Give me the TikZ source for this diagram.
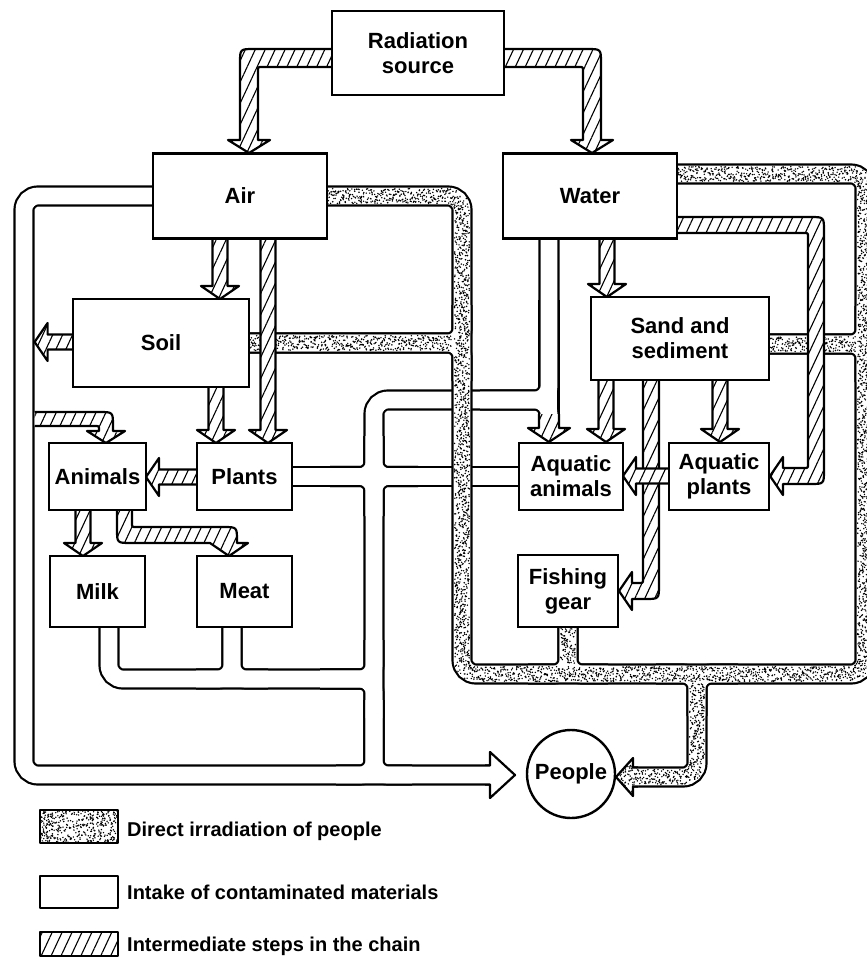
\documentclass[tikz,border=0pt]{standalone}
\usepackage{fontspec}
\setmainfont{Liberation Sans}
\usetikzlibrary{patterns.meta,decorations.markings}
\pgfdeclarelayer{wlay}
\pgfdeclarelayer{slay}
\pgfdeclarelayer{hlay}
\pgfsetlayers{wlay,slay,hlay,main}
\tikzset{
  bandline/.style={line width=2.2pt, line join=round},
  wblack/.style={draw=black, line width=21.2pt, rounded corners=14pt},
  wwhite/.style={draw=white, line width=16.8pt, rounded corners=14pt},
  sdots/.style={rounded corners=14pt, decoration={markings, mark=between positions 0 and 1 step 2pt with {\fill[black] ({(rnd-0.5)*2pt},{(rnd-0.5)*15pt}) circle (0.8pt) ({(rnd-0.5)*2pt},{(rnd-0.5)*15pt}) circle (0.8pt) ({(rnd-0.5)*2pt},{(rnd-0.5)*15pt}) circle (0.8pt) ({(rnd-0.5)*2pt},{(rnd-0.5)*15pt}) circle (0.8pt) ({(rnd-0.5)*2pt},{(rnd-0.5)*15pt}) circle (0.8pt);}}, decorate},
  hatchfill/.style={preaction={fill=white}, pattern={Lines[angle=65,distance=9pt,line width=1.1pt]}},
  nbox/.style={draw, line width=2.4pt, fill=white, inner sep=0pt, align=center, font=\fontsize{22}{25}\selectfont\bfseries},
  legtext/.style={anchor=base west, inner sep=0pt, font=\fontsize{20}{24}\selectfont\bfseries},
}
\newcommand{\WPaths}[1]{%
  \draw[#1] (air.west) -- (24,196) -- (24,775) -- (490,775);
  \draw[#1] (109,620) -- (109,679) -- (374,679);
  \draw[#1] (232,620) -- (232,679) -- (196,679);
  \draw[#1] (232,620) -- (232,679) -- (268,679);
  \draw[#1] (320,679) -- (374,679) -- (374,640);
  \draw[#1] (320,679) -- (374,679) -- (374,718);
  \draw[#1] (374,700) -- (374,775) -- (336,775);
  \draw[#1] (374,700) -- (374,775) -- (412,775);
  \draw[#1] (plants.east) -- (aqanim.west);
  \draw[#1] (330,476.5) -- (374,476.5) -- (374,436);
  \draw[#1] (330,476.5) -- (374,476.5) -- (374,516);
  \draw[#1] (418,476.5) -- (374,476.5) -- (374,436);
  \draw[#1] (418,476.5) -- (374,476.5) -- (374,516);
  \draw[#1] (374,775) -- (374,400) -- (549,400) -- (549,230);
  \draw[#1] (480,400) -- (549,400) -- (549,432);
  \draw[#1] (549,300) -- (549,432);
}
\newcommand{\SPaths}[1]{%
  \draw[#1] (air.east) -- (462,196) -- (462,674) -- (865,674) -- (865,174) -- (670,174);
  \draw[#1] (soil.east) -- (462,343) -- (462,305);
  \draw[#1] (soil.east) -- (462,343) -- (462,381);
  \draw[#1] (760,344) -- (865,344) -- (865,306);
  \draw[#1] (760,344) -- (865,344) -- (865,382);
  \draw[#1] (fish.south) -- (568,674) -- (528,674);
  \draw[#1] (fish.south) -- (568,674) -- (608,674);
  \draw[#1] (656,674) -- (697,674) -- (697,777) -- (633,777);
  \draw[#1] (738,674) -- (697,674) -- (697,716);
}
\newcommand{\hpoly}[1]{\path[hatchfill] #1 -- cycle; \draw[bandline] #1;}
\newcommand{\hdn}[3]{\hpoly{(#1-7.5,#2) -- (#1-7.5,#3-13) -- (#1-19,#3-13) -- (#1,#3) -- (#1+19,#3-13) -- (#1+7.5,#3-13) -- (#1+7.5,#2)}}
\newcommand{\hlf}[3]{\hpoly{(#2,#1-7.5) -- (#3+13,#1-7.5) -- (#3+13,#1-19) -- (#3,#1) -- (#3+13,#1+19) -- (#3+13,#1+7.5) -- (#2,#1+7.5)}}
\begin{document}
\begin{tikzpicture}[x=1pt,y=-1pt]
\pgfmathsetseed{4242}
\useasboundingbox (0,0) rectangle (867,959);
% boxes
\node[nbox, minimum width=172pt, minimum height=84pt] (src) at (418,53) {Radiation\\source};
\node[nbox, minimum width=174pt, minimum height=85pt] (air) at (240,196) {Air};
\node[nbox, minimum width=174pt, minimum height=85pt] (water) at (590,196) {Water};
\node[nbox, minimum width=176pt, minimum height=88pt] (soil) at (161,343) {Soil};
\node[nbox, minimum width=178pt, minimum height=83pt] (sand) at (680,338.5) {Sand and\\sediment};
\node[nbox, minimum width=97pt, minimum height=67pt] (animals) at (97.5,476.5) {Animals};
\node[nbox, minimum width=95pt, minimum height=67pt] (plants) at (244.5,476.5) {Plants};
\node[nbox, minimum width=104pt, minimum height=67pt] (aqanim) at (571,476.5) {Aquatic\\animals};
\node[nbox, minimum width=100pt, minimum height=67pt] (aqplant) at (719,476.5) {Aquatic\\plants};
\node[nbox, minimum width=95pt, minimum height=71pt] (milk) at (97.5,591.5) {Milk};
\node[nbox, minimum width=95pt, minimum height=71pt] (meat) at (244.5,591.5) {Meat};
\node[nbox, minimum width=100pt, minimum height=72pt] (fish) at (568,591) {Fishing\\gear};
\node[nbox, circle, minimum size=88pt] (people) at (571,774) {People};

% white (intake) network
\begin{pgfonlayer}{wlay}
\WPaths{wblack}
\WPaths{wwhite}
\fill[white] (485,765.5) -- (490,765.5) -- (490,752) -- (515,775) -- (490,798) -- (490,784.5) -- (485,784.5) -- cycle;
\draw[bandline] (485,765.5) -- (490,765.5) -- (490,752) -- (515,775) -- (490,798) -- (490,784.5) -- (485,784.5);
\end{pgfonlayer}

% stippled (direct irradiation) network
\begin{pgfonlayer}{slay}
\SPaths{wblack}
\SPaths{wwhite}
\path[sdots] (air.east) -- (462,196) -- (462,674) -- (865,674) -- (865,174) -- (677,174);
\path[sdots] (soil.east) -- (452,343);
\path[sdots] (769,344) -- (855,344);
\path[sdots] (fish.south) -- (568,664);
\path[sdots] (697,684) -- (697,777) -- (633,777);
\fill[white] (638,767.5) -- (633,767.5) -- (633,758) -- (616,777) -- (633,796) -- (633,786.5) -- (638,786.5) -- cycle;
\begin{scope}
\clip (638,767.5) -- (633,767.5) -- (633,758) -- (616,777) -- (633,796) -- (633,786.5) -- (638,786.5) -- cycle;
\foreach \i in {1,...,150}{\fill ({616+22*rnd},{758+38*rnd}) circle (0.8pt);}
\end{scope}
\draw[bandline] (638,767.5) -- (633,767.5) -- (633,758) -- (616,777) -- (633,796) -- (633,786.5) -- (638,786.5);
\end{pgfonlayer}

% hatched (intermediate) arrows
\begin{pgfonlayer}{hlay}
\hpoly{(332,49) -- (254,49) .. controls (240,49) .. (240,63) -- (240,140) -- (228,140) -- (249,153) -- (270,140) -- (258,140) -- (258,71) .. controls (258,67) .. (262,67) -- (332,67)}
\hpoly{(504,49) -- (587,49) .. controls (601,49) .. (601,63) -- (601,140) -- (613,140) -- (592,153) -- (571,140) -- (583,140) -- (583,71) .. controls (583,67) .. (579,67) -- (504,67)}
\hdn{220}{238}{299}
\hdn{268}{238}{443}
\hdn{216}{387}{443}
\hdn{83}{510}{556}
\hdn{607}{238}{297}
\hdn{606}{380}{442}
\hdn{720}{380}{442}
\hlf{342}{73}{34.6}
\hlf{477}{197}{146}
\hpoly{(643,380) -- (643,579) .. controls (643,583) .. (639,583) -- (632,583) -- (632,572) -- (619,591) -- (632,610) -- (632,599) -- (645,599) .. controls (659,599) .. (659,585) -- (659,380)}
\hlf{476}{669}{623}
\hpoly{(34.6,412) -- (99,412) .. controls (113,412) .. (113,426) -- (113,431) -- (125,431) -- (106,443) -- (87,431) -- (99,431) -- (99,430) .. controls (99,426) .. (95,426) -- (34.6,426)}
\hpoly{(117,510) -- (117,529) .. controls (117,543) .. (131,543) -- (210,543) -- (229,556) -- (248,543) -- (237,543) -- (237,541) .. controls (237,527) .. (223,527) -- (136,527) .. controls (132,527) .. (132,523) -- (132,510)}
\hpoly{(677,217) -- (810,217) .. controls (824,217) .. (824,231) -- (824,470) .. controls (824,484) .. (810,484) -- (783,484) -- (783,495) -- (770,476) -- (783,457) -- (783,468) -- (804,468) .. controls (808,468) .. (808,464) -- (808,237) .. controls (808,233) .. (804,233) -- (677,233)}
\hpoly{(539,414) -- (539,428) -- (528,428) -- (549,442) -- (570,428) -- (559,428) -- (559,414)}
\end{pgfonlayer}

% legend
\begin{scope}
\clip (40,810) rectangle (118,843);
\foreach \i in {1,...,420}{\fill ({40+78*rnd},{810+33*rnd}) circle (0.8pt);}
\end{scope}
\draw[bandline] (40,810) rectangle (118,843);
\node[legtext] (leg1) at (127,836) {Direct irradiation of people};
\draw[bandline] (40,876) rectangle (118,908);
\node[legtext] (leg2) at (127,899) {Intake of contaminated materials};
\path[hatchfill] (40,932) rectangle (118,956);
\draw[bandline] (40,932) rectangle (118,956);
\node[legtext] (leg3) at (127,951) {Intermediate steps in the chain};
\end{tikzpicture}
\end{document}
